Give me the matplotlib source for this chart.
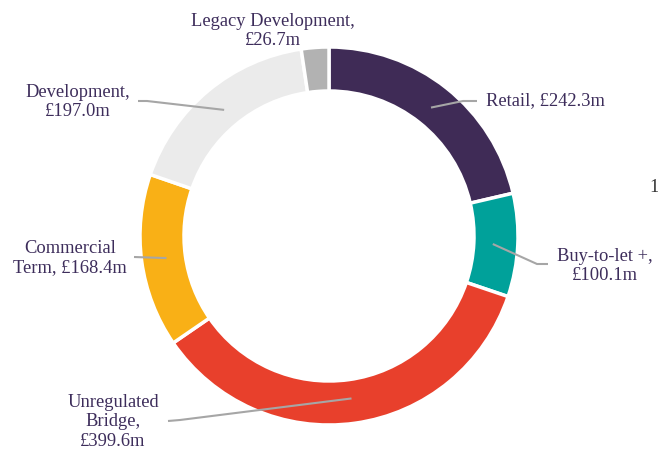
import numpy as np
import matplotlib.pyplot as plt

labels = ['Retail, £242.3m', 'Buy-to-let +,\n£100.1m', 'Unregulated\nBridge,\n£399.6m',
          'Commercial\nTerm, £168.4m', 'Development,\n£197.0m', 'Legacy Development,\n£26.7m']
values = [242.3, 100.1, 399.6, 168.4, 197.0, 26.7]
colors = ['#3f2b56', '#00a19a', '#e8402c', '#f9b016', '#ebebeb', '#b2b2b2']

W, H = 658, 450
cx, cy = 329, 236
R, ring = 189, 44
text_col = '#3d2d5b'
line_col = '#a6a6a6'

plt.rcParams['font.family'] = ['Liberation Serif', 'DejaVu Serif']

fig = plt.figure(figsize=(W / 100, H / 100), dpi=100)
ax = fig.add_axes([0, 0, 1, 1])
ax.set_xlim(0, W)
ax.set_ylim(0, H)
ax.set_aspect('equal')
ax.axis('off')


def fy(y):
    # pixel row -> data y
    return H - y


wedges, _ = ax.pie(values, colors=colors, startangle=90, counterclock=False,
                   radius=R, center=(cx, fy(cy)),
                   wedgeprops=dict(width=ring, edgecolor='white', linewidth=2.5))
ax.set_xlim(0, W)
ax.set_ylim(0, H)

# label text position and leader elbow points (pixels), None = no leader
label_pos = [(486, 101, 'left'), (605, 266, 'center'), (113, 422, 'center'),
             (70, 258, 'center'), (78, 102, 'center'), (273, 31, 'center')]
elbows = [[(463, 101), (477, 101)],
          [(537, 264), (548, 264)],
          [(180, 420), (168, 421)],
          [(134, 257)],
          [(147, 101), (138, 101)],
          None]

for w, lab, (tx, ty, ha), el in zip(wedges, labels, label_pos, elbows):
    if el is not None:
        mid = np.deg2rad((w.theta1 + w.theta2) / 2)
        r = R - ring / 2 - 3
        sx = cx + r * np.cos(mid)
        sy = fy(cy) + r * np.sin(mid)
        xs = [sx] + [p[0] for p in el]
        ys = [sy] + [fy(p[1]) for p in el]
        ax.plot(xs, ys, color=line_col, lw=1.5, solid_capstyle='butt')
    ax.text(tx, fy(ty), lab, ha=ha, va='center', fontsize=13.3, color=text_col,
            linespacing=1.2, multialignment='center')

ax.text(649, fy(188), '1', ha='left', va='center', fontsize=13.3, color='#333333')

fig.savefig('out.png', dpi=100)
